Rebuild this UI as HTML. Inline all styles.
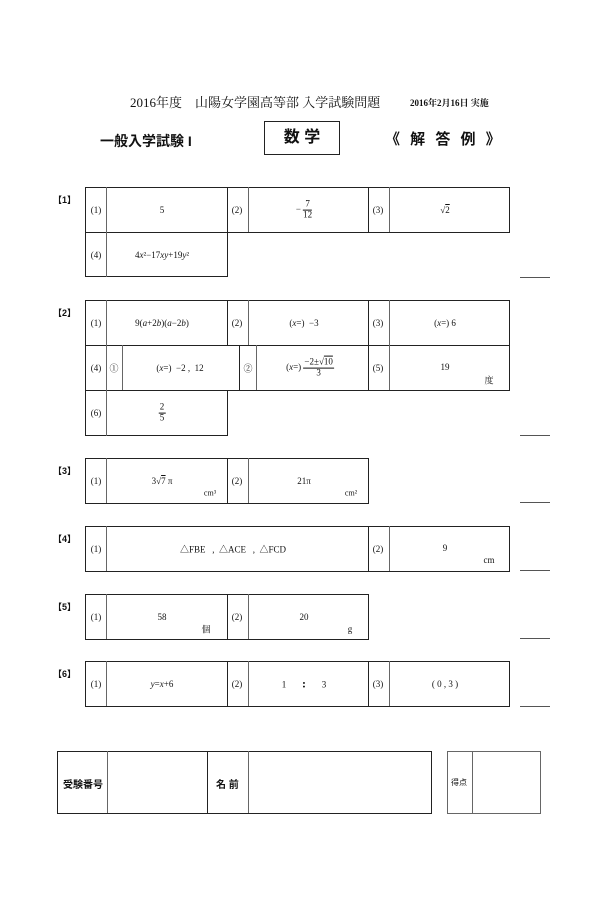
<!DOCTYPE html>
<html><head><meta charset="utf-8"><style>
body{margin:0;width:600px;height:900px;background:#fff;position:relative;font-family:"Liberation Serif","Noto Serif CJK SC",serif;color:#111;overflow:hidden}
.a{position:absolute}
.b{position:absolute;border:1.5px solid #222;box-sizing:border-box}
.v{position:absolute;border-left:1px solid #666}
.h{position:absolute;border-top:1.5px solid #222}
.t{position:absolute;font-size:9px;transform:translate(-50%,-50%);white-space:nowrap}
.lb{position:absolute;font-size:9px;font-weight:bold;font-family:"Liberation Sans","Noto Sans CJK JP",sans-serif}
.rl{position:absolute;left:520px;width:30px;border-top:1px solid #555}
.fr{display:inline-block;text-align:center;vertical-align:middle;line-height:1.1}
.fr .n{display:block;border-bottom:1px solid #111;padding:0 1px}
.fr .d{display:block}
.ov{text-decoration:overline}
</style></head><body>
<div class="a" style="left:130px;top:92px;font-size:13px;white-space:nowrap;font-family:'Liberation Serif','Noto Serif CJK JP',serif">2016年度　山陽女学園高等部 入学試験問題</div>
<div class="a" style="left:410px;top:96px;font-size:9px;font-weight:bold;white-space:nowrap;font-family:'Liberation Serif','Noto Serif CJK JP',serif">2016年2月16日 実施</div>
<div class="a" style="left:100px;top:131px;font-size:14px;font-weight:bold;font-family:'Liberation Sans','Noto Sans CJK JP',sans-serif">一般入学試験 I</div>
<div class="b" style="left:264px;top:121px;width:76px;height:34px;text-align:center;line-height:31px;font-size:16px;font-weight:bold;font-family:'Liberation Sans','Noto Sans CJK JP',sans-serif">数 学</div>
<div class="a" style="left:385px;top:128px;font-size:15px;font-weight:bold;font-family:'Liberation Sans','Noto Sans CJK JP',sans-serif;letter-spacing:3px">《 解 答 例 》</div>

<!-- [1] -->
<div class="lb" style="left:53px;top:193px">【1】</div>
<div class="b" style="left:85px;top:187px;width:425px;height:46px"></div>
<div class="b" style="left:85px;top:232px;width:143px;height:45px;border-top:none"></div>
<div class="a" style="left:227px;top:187px;height:45px;border-left:1.5px solid #222"></div>
<div class="a" style="left:368px;top:187px;height:45px;border-left:1.5px solid #222"></div>
<div class="v" style="left:106px;top:187px;height:90px"></div>
<div class="v" style="left:248px;top:187px;height:45px"></div>
<div class="v" style="left:389px;top:187px;height:45px"></div>
<div class="t" style="left:96px;top:210px">(1)</div><div class="t" style="left:162px;top:210px">5</div>
<div class="t" style="left:237px;top:210px">(2)</div><div class="t" style="left:304px;top:210px">− <span class="fr"><span class="n">7</span><span class="d">12</span></span></div>
<div class="t" style="left:378px;top:210px">(3)</div><div class="t" style="left:445px;top:210px">√<span class="ov">2</span></div>
<div class="t" style="left:96px;top:255px">(4)</div><div class="t" style="left:162px;top:255px">4<i>x</i>²−17<i>xy</i>+19<i>y</i>²</div>
<div class="rl" style="top:277px"></div>

<!-- [2] -->
<div class="lb" style="left:53px;top:306px">【2】</div>
<div class="b" style="left:85px;top:300px;width:425px;height:91px"></div>
<div class="b" style="left:85px;top:390px;width:143px;height:46px;border-top:none"></div>
<div class="h" style="left:85px;top:345px;width:425px"></div>
<div class="a" style="left:227px;top:300px;height:45px;border-left:1.5px solid #222"></div>
<div class="a" style="left:368px;top:300px;height:90px;border-left:1.5px solid #222"></div>
<div class="a" style="left:239px;top:345px;height:45px;border-left:1.5px solid #222"></div>
<div class="v" style="left:106px;top:300px;height:136px"></div>
<div class="v" style="left:248px;top:300px;height:45px"></div>
<div class="v" style="left:389px;top:300px;height:90px"></div>
<div class="v" style="left:122px;top:345px;height:45px"></div>
<div class="v" style="left:256px;top:345px;height:45px"></div>
<div class="t" style="left:96px;top:323px">(1)</div><div class="t" style="left:162px;top:323px">9(<i>a</i>+2<i>b</i>)(<i>a</i>−2<i>b</i>)</div>
<div class="t" style="left:237px;top:323px">(2)</div><div class="t" style="left:304px;top:323px">(<i>x</i>=)&nbsp; −3</div>
<div class="t" style="left:378px;top:323px">(3)</div><div class="t" style="left:445px;top:323px">(<i>x</i>=) 6</div>
<div class="t" style="left:96px;top:368px">(4)</div><div class="t" style="left:114px;top:368px">①</div>
<div class="t" style="left:180px;top:368px">(<i>x</i>=)&nbsp; −2 ,&nbsp; 12</div>
<div class="t" style="left:248px;top:368px">②</div>
<div class="t" style="left:310px;top:368px">(<i>x</i>=) <span class="fr"><span class="n">−2±√<span class="ov">10</span></span><span class="d">3</span></span></div>
<div class="t" style="left:378px;top:368px">(5)</div><div class="t" style="left:445px;top:367px">19</div><div class="t" style="left:489px;top:380px">度</div>
<div class="t" style="left:96px;top:413px">(6)</div><div class="t" style="left:162px;top:413px"><span class="fr"><span class="n">2</span><span class="d">5</span></span></div>
<div class="rl" style="top:435px"></div>

<!-- [3] -->
<div class="lb" style="left:53px;top:464px">【3】</div>
<div class="b" style="left:85px;top:458px;width:284px;height:46px"></div>
<div class="a" style="left:227px;top:458px;height:45px;border-left:1.5px solid #222"></div>
<div class="v" style="left:106px;top:458px;height:45px"></div>
<div class="v" style="left:248px;top:458px;height:45px"></div>
<div class="t" style="left:96px;top:481px">(1)</div><div class="t" style="left:162px;top:481px">3√<span class="ov">7</span> π</div><div class="t" style="left:210px;top:493px;font-size:8px">cm³</div>
<div class="t" style="left:237px;top:481px">(2)</div><div class="t" style="left:304px;top:481px">21π</div><div class="t" style="left:351px;top:493px;font-size:8px">cm²</div>
<div class="rl" style="top:502px"></div>

<!-- [4] -->
<div class="lb" style="left:53px;top:532px">【4】</div>
<div class="b" style="left:85px;top:526px;width:425px;height:46px"></div>
<div class="a" style="left:368px;top:526px;height:45px;border-left:1.5px solid #222"></div>
<div class="v" style="left:106px;top:526px;height:45px"></div>
<div class="v" style="left:389px;top:526px;height:45px"></div>
<div class="t" style="left:96px;top:549px">(1)</div><div class="t" style="left:233px;top:549px">△FBE&nbsp;&nbsp; ,&nbsp; △ACE&nbsp;&nbsp; ,&nbsp; △FCD</div>
<div class="t" style="left:378px;top:549px">(2)</div><div class="t" style="left:445px;top:548px">9</div><div class="t" style="left:489px;top:560px">cm</div>
<div class="rl" style="top:570px"></div>

<!-- [5] -->
<div class="lb" style="left:53px;top:600px">【5】</div>
<div class="b" style="left:85px;top:594px;width:284px;height:46px"></div>
<div class="a" style="left:227px;top:594px;height:45px;border-left:1.5px solid #222"></div>
<div class="v" style="left:106px;top:594px;height:45px"></div>
<div class="v" style="left:248px;top:594px;height:45px"></div>
<div class="t" style="left:96px;top:617px">(1)</div><div class="t" style="left:162px;top:617px">58</div><div class="t" style="left:206px;top:629px">個</div>
<div class="t" style="left:237px;top:617px">(2)</div><div class="t" style="left:304px;top:617px">20</div><div class="t" style="left:350px;top:629px">g</div>
<div class="rl" style="top:638px"></div>

<!-- [6] -->
<div class="lb" style="left:53px;top:667px">【6】</div>
<div class="b" style="left:85px;top:661px;width:425px;height:46px"></div>
<div class="a" style="left:227px;top:661px;height:45px;border-left:1.5px solid #222"></div>
<div class="a" style="left:368px;top:661px;height:45px;border-left:1.5px solid #222"></div>
<div class="v" style="left:106px;top:661px;height:45px"></div>
<div class="v" style="left:248px;top:661px;height:45px"></div>
<div class="v" style="left:389px;top:661px;height:45px"></div>
<div class="t" style="left:96px;top:684px">(1)</div><div class="t" style="left:162px;top:684px"><i>y</i>=<i>x</i>+6</div>
<div class="t" style="left:237px;top:684px">(2)</div><div class="t" style="left:304px;top:684px">1&nbsp;&nbsp;&nbsp;&nbsp;&nbsp;&nbsp;&nbsp;<b style="font-size:12px">:</b>&nbsp;&nbsp;&nbsp;&nbsp;&nbsp;&nbsp;&nbsp;3</div>
<div class="t" style="left:378px;top:684px">(3)</div><div class="t" style="left:445px;top:684px">( 0 , 3 )</div>
<div class="rl" style="top:706px"></div>

<!-- bottom -->
<div class="b" style="left:57px;top:751px;width:375px;height:63px"></div>
<div class="v" style="left:107px;top:751px;height:62px"></div>
<div class="a" style="left:207px;top:751px;height:62px;border-left:1.5px solid #222"></div>
<div class="v" style="left:248px;top:751px;height:62px"></div>
<div class="lb" style="left:63px;top:776px;font-size:10px">受験番号</div>
<div class="lb" style="left:216px;top:776px;font-size:10px">名 前</div>
<div class="b" style="left:447px;top:751px;width:94px;height:63px;border-color:#666;border-width:1px"></div>
<div class="v" style="left:472px;top:751px;height:62px"></div>
<div class="a" style="left:451px;top:777px;font-size:8px;font-family:'Liberation Sans','Noto Sans CJK JP',sans-serif">得点</div>
</body></html>
